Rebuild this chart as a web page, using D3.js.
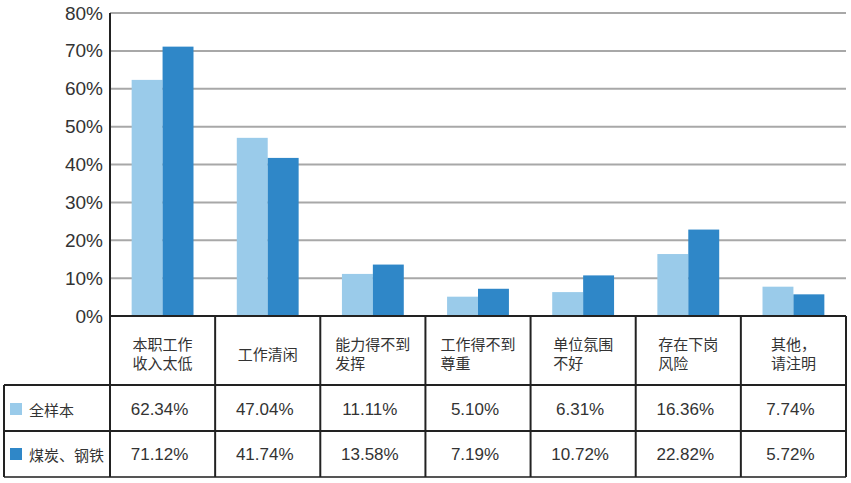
<!DOCTYPE html>
<html><head><meta charset="utf-8">
<script src="https://cdn.jsdelivr.net/npm/d3@7"></script>
<style>body{margin:0;background:#fff}svg{display:block}</style>
</head><body>
<script>
const categories = [["本职工作","收入太低"],["工作清闲"],["能力得不到","发挥"],["工作得不到","尊重"],["单位氛围","不好"],["存在下岗","风险"],["其他，","请注明"]];
const seriesNames = ["全样本","煤炭、钢铁"];
const fullSample = [62.34,47.04,11.11,5.10,6.31,16.36,7.74];
const coalSteel = [71.12,41.74,13.58,7.19,10.72,22.82,5.72];
const valueLabels = [["62.34%","47.04%","11.11%","5.10%","6.31%","16.36%","7.74%"],["71.12%","41.74%","13.58%","7.19%","10.72%","22.82%","5.72%"]];
const yTicks = [0,10,20,30,40,50,60,70,80];
const colors = ["#9acbea","#2f87c8"];

const W=851,H=483;
const mLeft=110,mRight=846,mTop=13,mBottom=316;
const svg=d3.select("body").append("svg").attr("width",W).attr("height",H);
const x=d3.scaleBand().domain(d3.range(categories.length)).range([mLeft,mRight]).paddingInner(0).paddingOuter(0);
const xs=d3.scaleBand().domain([0,1]).range([0,x.bandwidth()]).paddingInner(0).paddingOuter(0.7);
const y=d3.scaleLinear().domain([0,80]).range([mBottom,mTop]);
const series=[fullSample,coalSteel];

// gridlines
svg.append("g").selectAll("line").data(yTicks.filter(d=>d>0)).join("line")
 .attr("x1",mLeft).attr("x2",mRight).attr("y1",d=>y(d)).attr("y2",d=>y(d))
 .attr("stroke","#a8a8a8").attr("stroke-width",2);

// y axis labels
const yAxis=d3.axisLeft(y).tickValues(yTicks).tickFormat(d=>d+"%").tickSize(0).tickPadding(7);
const ga=svg.append("g").attr("transform",`translate(${mLeft},0)`).call(yAxis);
ga.select(".domain").remove();
ga.selectAll("text").attr("font-family","Liberation Sans, Arial, sans-serif").attr("font-size",19).attr("fill","#333");

// bars
series.forEach((s,si)=>{
  svg.append("g").selectAll("rect").data(s).join("rect")
   .attr("x",(d,i)=>x(i)+xs(si)).attr("width",xs.bandwidth())
   .attr("y",d=>y(d)).attr("height",d=>y(0)-y(d)).attr("fill",colors[si]);
});

// axis line
svg.append("line").attr("x1",mLeft).attr("x2",mLeft).attr("y1",mTop).attr("y2",mBottom).attr("stroke","#222").attr("stroke-width",2);

// table
const rowTop=[mBottom,385,431,477];
const tbl=svg.append("g").attr("stroke","#222").attr("stroke-width",2);
tbl.append("line").attr("x1",mLeft).attr("x2",mRight).attr("y1",mBottom).attr("y2",mBottom);
tbl.append("line").attr("x1",4).attr("x2",mRight).attr("y1",rowTop[1]).attr("y2",rowTop[1]);
tbl.append("line").attr("x1",4).attr("x2",mRight).attr("y1",rowTop[2]).attr("y2",rowTop[2]);
tbl.append("line").attr("x1",4).attr("x2",mRight).attr("y1",rowTop[3]).attr("y2",rowTop[3]).attr("stroke","#555");
tbl.append("line").attr("x1",4).attr("x2",4).attr("y1",rowTop[1]).attr("y2",rowTop[3]);
const bounds=d3.range(categories.length).map(i=>x(i)).concat([mRight]);
tbl.selectAll(".v").data(bounds).join("line").attr("class","v")
 .attr("x1",d=>d).attr("x2",d=>d).attr("y1",mBottom).attr("y2",rowTop[3]);

// header texts (each line its own text element)
const cjk="Noto Sans CJK SC, sans-serif";
categories.forEach((lines,i)=>{
  const cx=x(i)+x.bandwidth()/2;
  const g=svg.append("g");
  const y0 = lines.length===1 ? 353 : 343;
  const ts=lines.map((l,k)=>g.append("text").attr("x",0).attr("y",y0+k*19).attr("dominant-baseline","central")
     .attr("font-family",cjk).attr("font-size",15).attr("fill","#333").text(l));
  const w=d3.max(ts,t=>t.node().getComputedTextLength());
  g.attr("transform",`translate(${Math.max(cx-w/2,x(i)+3)},0)`);
});

// values + legend
const rowY=[409,454];
valueLabels.forEach((row,si)=>{
  svg.append("g").selectAll("text").data(row).join("text")
   .attr("x",(d,i)=>x(i)+x.bandwidth()/2-3).attr("y",rowY[si]).attr("dominant-baseline","central")
   .attr("text-anchor","middle").attr("font-family","Liberation Sans, Arial, sans-serif")
   .attr("font-size",17).attr("fill","#333").text(d=>d);
  svg.append("rect").attr("x",10).attr("y",rowY[si]-6).attr("width",12).attr("height",12).attr("fill",colors[si]);
  svg.append("text").attr("x",29).attr("y",rowY[si]).attr("dominant-baseline","central")
   .attr("font-family",cjk).attr("font-size",15).attr("fill","#333").text(seriesNames[si]);
});
</script>
</body></html>
